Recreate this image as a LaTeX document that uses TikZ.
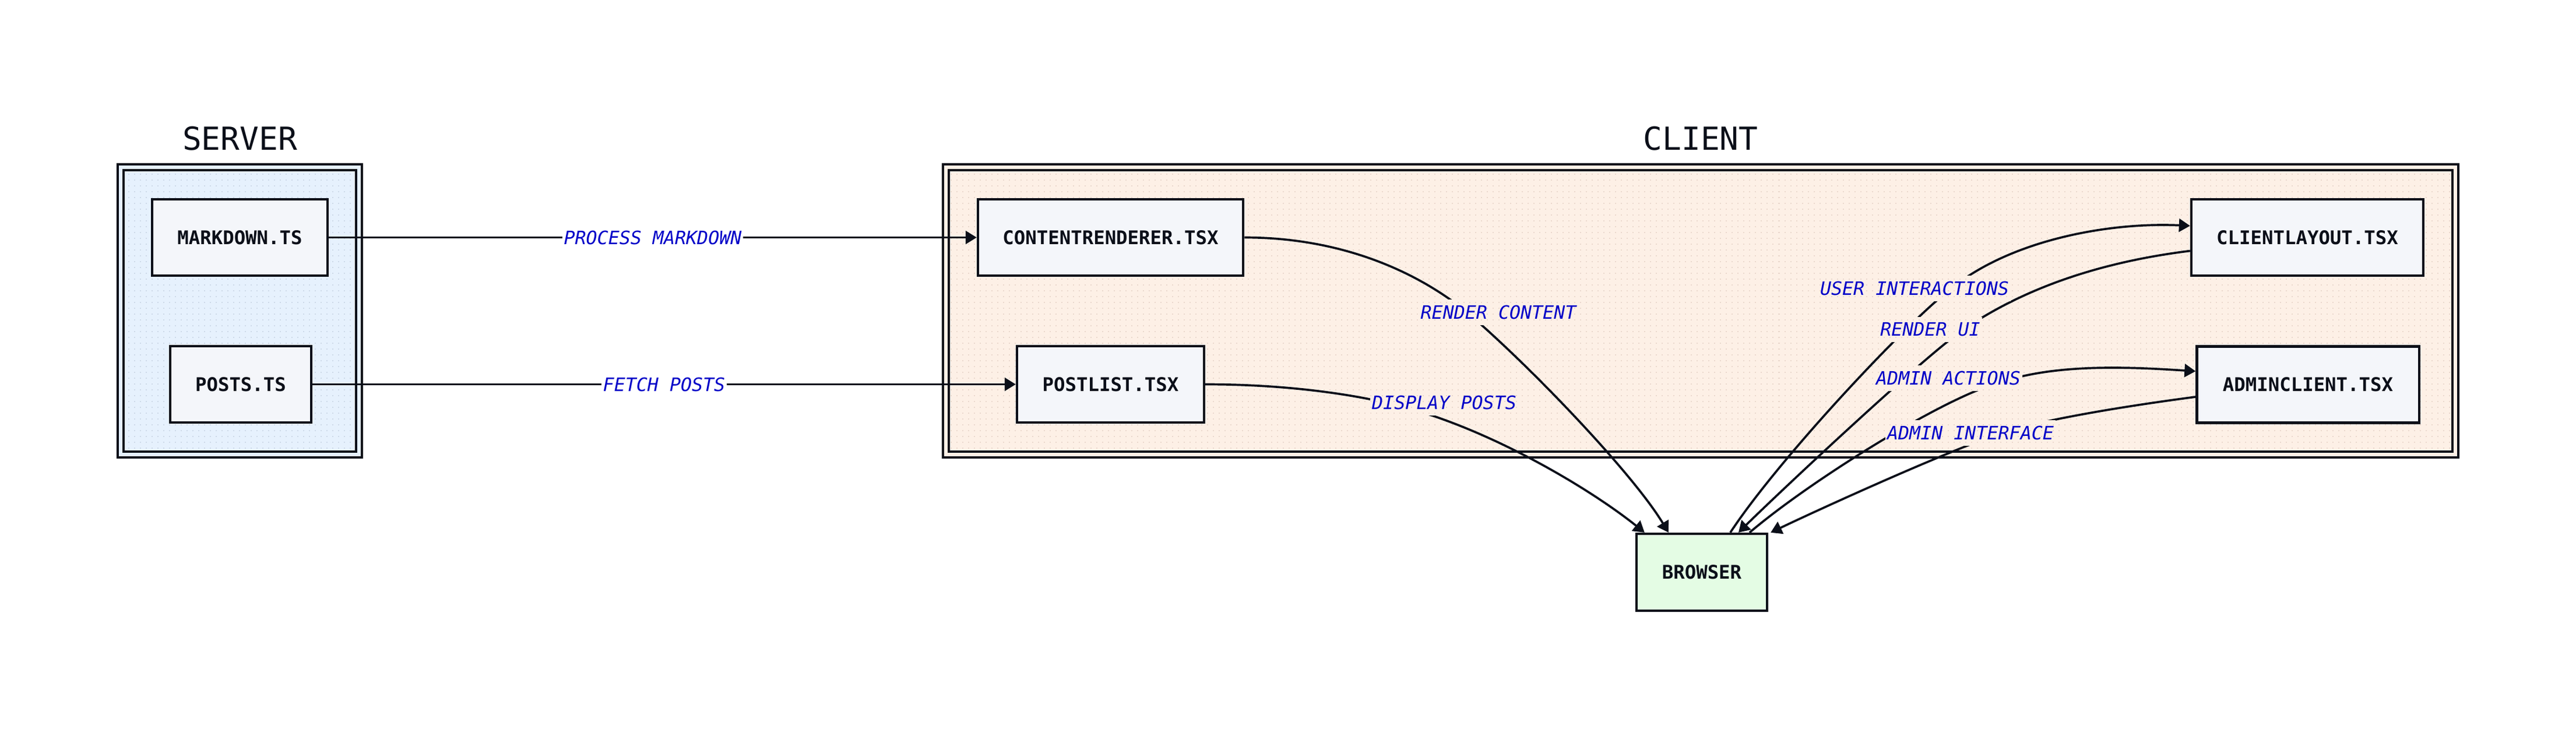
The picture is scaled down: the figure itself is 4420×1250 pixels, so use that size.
\documentclass[tikz,border=0pt]{standalone}
\usepackage{fontspec}
\setmonofont{DejaVu Sans Mono}
\usetikzlibrary{arrows.meta,patterns}
\definecolor{ink}{HTML}{0B0F19}
\definecolor{srvfill}{HTML}{E6F1FD}
\definecolor{srvdot}{HTML}{CDD9E8}
\definecolor{clifill}{HTML}{FDF0E6}
\definecolor{clidot}{HTML}{EAD8CD}
\definecolor{nodefill}{HTML}{F4F6FA}
\definecolor{brfill}{HTML}{E4FCE4}
\definecolor{lblue}{HTML}{0000C8}
\pgfdeclarepatternformonly{finedots}{\pgfqpoint{-0.1pt}{-0.1pt}}{\pgfqpoint{1pt}{1pt}}{\pgfqpoint{2.845pt}{2.845pt}}{\pgfpathrectangle{\pgfqpoint{0pt}{0pt}}{\pgfqpoint{0.57pt}{0.57pt}}\pgfusepath{fill}}
\tikzset{
  box/.style={draw=ink, line width=1.2pt, fill=nodefill, inner sep=0pt, minimum height=1.31cm,
    font=\ttfamily\bfseries\fontsize{9.2}{11}\selectfont, text=ink},
  edge/.style={draw=ink, line width=1.05pt, -{Triangle[length=5.4pt,width=6.4pt]}},
  lbl/.style={font=\ttfamily\itshape\fontsize{9}{11}\selectfont, text=lblue, inner xsep=0.8pt, inner ysep=0pt, minimum height=12.5pt},
  lblw/.style={lbl, fill=white},
  lblc/.style={lbl, fill=clifill, postaction={pattern=finedots, pattern color=clidot}},
  title/.style={font=\ttfamily\fontsize{15.5}{18}\selectfont, text=ink, inner sep=0pt},
  frame/.style={draw=ink, line width=1.2pt},
}
\begin{document}
\begin{tikzpicture}[x=0.01cm, y=-0.01cm]
\useasboundingbox (0,0) rectangle (4420,1250);
\fill[white] (0,0) rectangle (4420,1250);
% clusters
\fill[srvfill] (202,282) rectangle (621,785);
\fill[pattern=finedots, pattern color=srvdot] (212,292) rectangle (611,775);
\draw[frame] (202,282) rectangle (621,785);
\draw[frame] (212,292) rectangle (611,775);
\fill[clifill] (1618,282) rectangle (4218,785);
\fill[pattern=finedots, pattern color=clidot] (1628,292) rectangle (4208,775);
\draw[frame] (1618,282) rectangle (4218,785);
\draw[frame] (1628,292) rectangle (4208,775);
\node[title] (st) at (411.5,238) {SERVER};
\node[title] (ct) at (2918,238) {CLIENT};
% nodes
\node[box, minimum width=3.01cm] (md) at (411.5,407.5) {MARKDOWN.TS};
\node[box, minimum width=2.42cm] (po) at (413,659.5) {POSTS.TS};
\node[box, minimum width=4.55cm] (cr) at (1905.5,407.5) {CONTENTRENDERER.TSX};
\node[box, minimum width=3.21cm] (pl) at (1905.5,659.5) {POSTLIST.TSX};
\node[box, minimum width=3.98cm] (cl) at (3959,407.5) {CLIENTLAYOUT.TSX};
\node[box, minimum width=3.81cm] (ad) at (3960,660) {ADMINCLIENT.TSX};
\node[box, fill=brfill, minimum width=2.24cm, minimum height=1.32cm] (br) at (2920,982) {BROWSER};
% edges
\draw[edge] (md.east) -- (cr.west);
\draw[edge] (po.east) -- (pl.west);
\draw[edge] (cr.east) .. controls (2300,407.5) and (2430,465) .. (2516,535)
  .. controls (2620,623) and (2800,810) .. ([xshift=0.57cm]br.north west);
\draw[edge] (pl.east) .. controls (2200,659.5) and (2320,675) .. (2407,698)
  .. controls (2560,738) and (2730,840) .. ([xshift=0.16cm]br.north west);
\draw[edge] ([xshift=1.63cm]br.north west) .. controls (3050,790) and (3270,555) .. (3348,495)
  .. controls (3450,412) and (3618,381) .. ([yshift=0.2cm]cl.west);
\draw[edge] ([yshift=-0.23cm]cl.west) .. controls (3560,455) and (3440,517) .. (3369,565.5)
  .. controls (3299,613.5) and (3045,852.5) .. ([xshift=1.77cm]br.north west);
\draw[edge] ([xshift=1.96cm]br.north west) .. controls (3110,822) and (3340,680) .. (3430,657)
  .. controls (3530,622) and (3666,630.7) .. ([yshift=0.23cm]ad.west);
\draw[edge] ([yshift=-0.21cm]ad.west) .. controls (3646,697) and (3505,720) .. (3435,743)
  .. controls (3345,772) and (3117,876) .. ([xshift=0.04cm]br.north east);
% labels
\node[lblw] (l1) at (1120,407.5) {PROCESS MARKDOWN};
\node[lblw] (l2) at (1139.5,659.5) {FETCH POSTS};
\node[lblc] (l3) at (2571,536) {RENDER CONTENT};
\node[lblc] (l4) at (2478,691) {DISPLAY POSTS};
\node[lblc] (l5) at (3285,495) {USER INTERACTIONS};
\node[lblc] (l6) at (3312,565.5) {RENDER UI};
\node[lblc] (l7) at (3343,649) {ADMIN ACTIONS};
\node[lblc] (l8) at (3381,743) {ADMIN INTERFACE};
\end{tikzpicture}
\end{document}
